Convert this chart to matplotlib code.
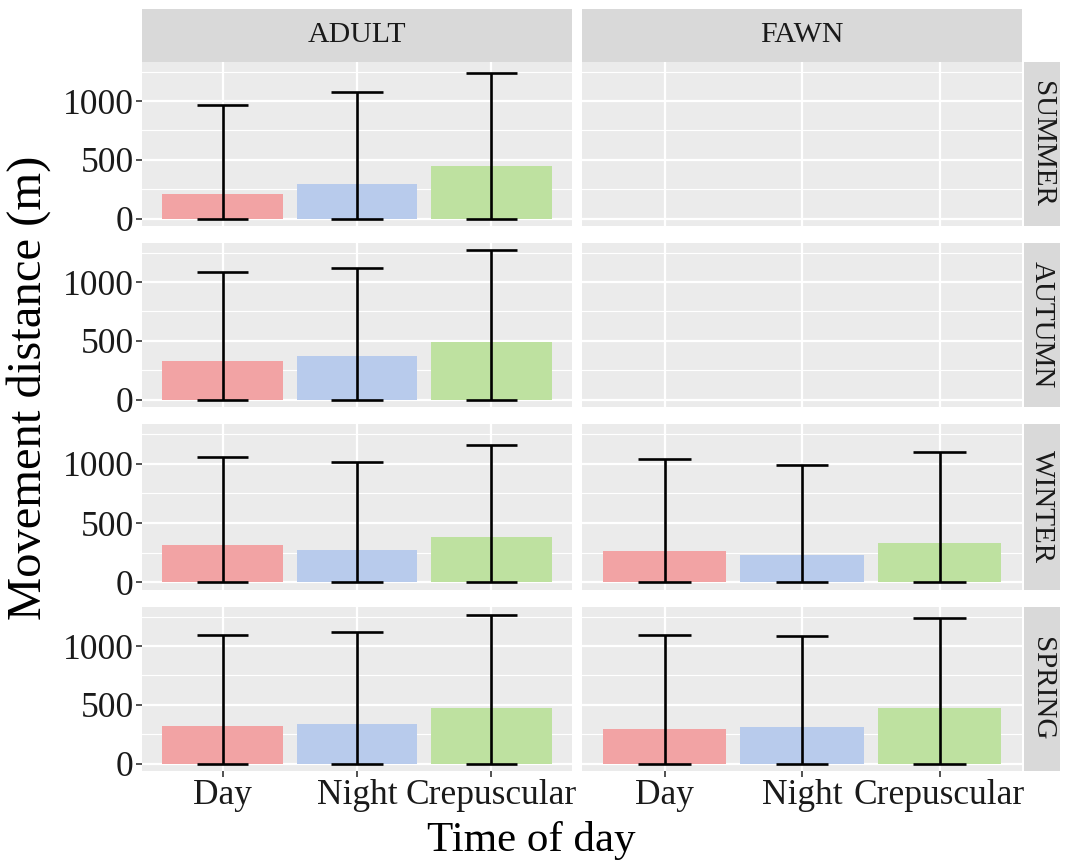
import matplotlib.pyplot as plt
import numpy as np

plt.rcParams['font.family'] = ['Liberation Serif', 'DejaVu Serif']

# categories
times = ['Day', 'Night', 'Crepuscular']
ages = ['ADULT', 'FAWN']
seasons = ['SUMMER', 'AUTUMN', 'WINTER', 'SPRING']
colors = ['#F2A3A4', '#B8CBEC', '#BEE1A0']

# mean movement distance (bar height) and upper error limit, lower limit is 0
adult_mean = {'SUMMER': [209, 294, 449], 'AUTUMN': [326, 371, 490],
              'WINTER': [314, 277, 384], 'SPRING': [318, 333, 470]}
adult_upper = {'SUMMER': [971, 1074, 1243], 'AUTUMN': [1086, 1120, 1270],
               'WINTER': [1056, 1014, 1154], 'SPRING': [1092, 1118, 1266]}
fawn_mean = {'WINTER': [263, 227, 336], 'SPRING': [292, 315, 473]}
fawn_upper = {'WINTER': [1042, 992, 1098], 'SPRING': [1095, 1089, 1241]}
lower = 0

W, H = 1073, 863
fig = plt.figure(figsize=(W / 100, H / 100), dpi=100)

def box(x0, y0, x1, y1):
    # pixel box (from top-left) -> figure fraction
    return [x0 / W, 1 - y1 / H, (x1 - x0) / W, (y1 - y0) / H]

cols = [(142, 572), (582, 1022)]
rows = [(62, 226), (243, 407), (424, 590), (607, 771)]

ymax = max(max(v) for v in adult_upper.values())
pad = 0.05 * ymax
ylim = (lower - pad, ymax + pad)
x = np.arange(len(times))

for j, (c0, c1) in enumerate(cols):
    # top strip
    sa = fig.add_axes(box(c0, 9, c1, 62))
    sa.set_facecolor('#D9D9D9')
    sa.set_xticks([]); sa.set_yticks([])
    for s in sa.spines.values():
        s.set_visible(False)
    sa.text(0.5, 0.5, ages[j], ha='center', va='center', fontsize=21.5, color='#1A1A1A')

    for i, (r0, r1) in enumerate(rows):
        ax = fig.add_axes(box(c0, r0, c1, r1))
        ax.set_facecolor('#EBEBEB')
        for s in ax.spines.values():
            s.set_visible(False)
        ax.set_xlim(-0.6, 2.6)
        ax.set_ylim(*ylim)
        ax.set_yticks([0, 500, 1000])
        ax.set_yticks([250, 750, 1250], minor=True)
        ax.set_xticks(x)
        ax.grid(which='major', color='white', lw=1.6)
        ax.grid(which='minor', axis='y', color='white', lw=0.8)
        ax.set_axisbelow(True)
        ax.tick_params(which='minor', length=0)
        ax.tick_params(which='major', length=4, width=1.2, color='#333333',
                       labelsize=25.5, labelcolor='#1A1A1A', pad=2)
        if j == 0:
            ax.set_yticklabels(['0', '500', '1000'])
        else:
            ax.tick_params(axis='y', length=0, labelleft=False)
        if i == len(rows) - 1:
            ax.set_xticklabels(times)
        else:
            ax.tick_params(axis='x', length=0, labelbottom=False)

        season = seasons[i]
        means = adult_mean if j == 0 else fawn_mean
        uppers = adult_upper if j == 0 else fawn_upper
        if season in means:
            ax.bar(x, means[season], width=0.9, color=colors, zorder=2)
            ax.vlines(x, lower, uppers[season], color='black', lw=1.9, zorder=3)
            ax.hlines(uppers[season], x - 0.19, x + 0.19, color='black', lw=1.9, zorder=3)
            ax.hlines([lower] * 3, x - 0.19, x + 0.19, color='black', lw=1.9, zorder=3)

# right strips
for i, (r0, r1) in enumerate(rows):
    sr = fig.add_axes(box(1024, r0, 1060, r1))
    sr.set_facecolor('#D9D9D9')
    sr.set_xticks([]); sr.set_yticks([])
    for s in sr.spines.values():
        s.set_visible(False)
    sr.text(0.5, 0.5, seasons[i], ha='center', va='center', rotation=-90,
            fontsize=21, color='#1A1A1A')

fig.text(29 / W, 1 - 388 / H, 'Movement distance (m)', rotation=90,
         ha='center', va='center', fontsize=35)
fig.text(531 / W, 1 - 840 / H, 'Time of day', ha='center', va='center', fontsize=31)

fig.savefig('out.png', dpi=100)
